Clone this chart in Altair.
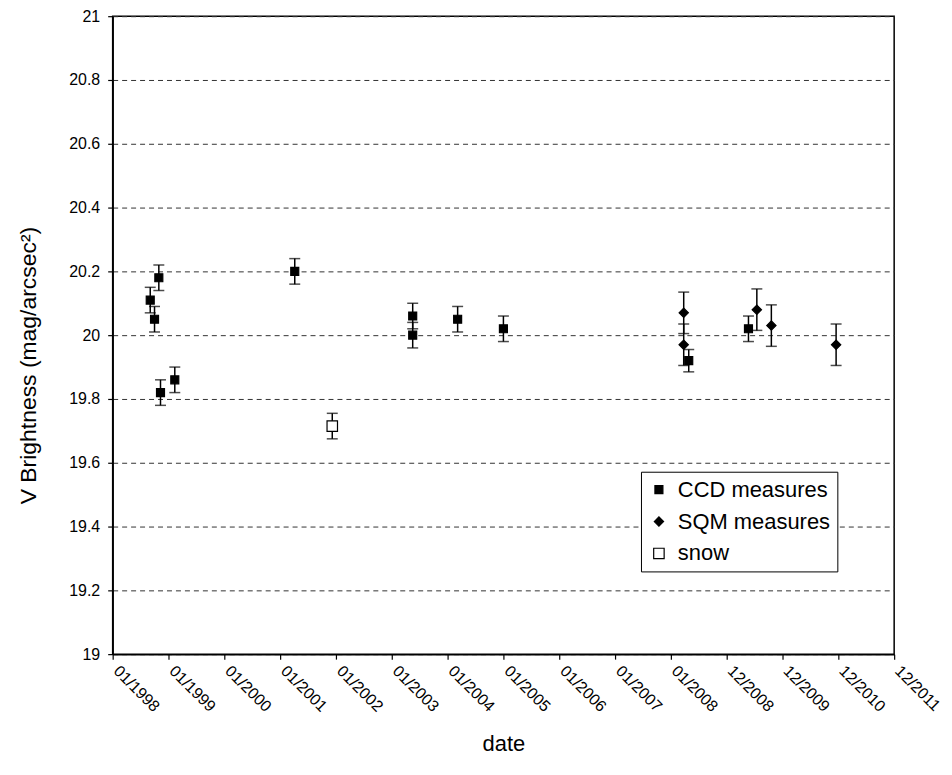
import json
import altair as alt
import pandas as pd

# x positions are expressed as years on the chart's evenly spaced date axis
tick_values = [1998 + i for i in range(15)]
tick_labels = ["01/1998", "01/1999", "01/2000", "01/2001", "01/2002", "01/2003",
               "01/2004", "01/2005", "01/2006", "01/2007", "01/2008", "12/2008",
               "12/2009", "12/2010", "12/2011"]
y_ticks = [19, 19.2, 19.4, 19.6, 19.8, 20, 20.2, 20.4, 20.6, 20.8, 21]

ccd_x = [1998.673, 1998.75, 1998.827, 1998.857, 1999.113, 2001.262, 2003.375,
         2003.375, 2004.18, 2005.0, 2008.32, 2009.39]
ccd_y = [20.11, 20.05, 20.18, 19.82, 19.86, 20.20, 20.06, 20.00, 20.05, 20.02,
         19.92, 20.02]
ccd_err = [0.04, 0.04, 0.04, 0.04, 0.04, 0.04, 0.04, 0.04, 0.04, 0.04, 0.035, 0.04]

sqm_x = [2008.23, 2008.23, 2009.54, 2009.80, 2010.96]
sqm_y = [20.07, 19.97, 20.08, 20.03, 19.97]
sqm_err = [0.065, 0.065, 0.065, 0.065, 0.065]

snow_x = [2001.934]
snow_y = [19.715]
snow_err = [0.04]

series_names = ["CCD measures", "SQM measures", "snow"]

rows = []
for name, xs, ys, es in [(series_names[0], ccd_x, ccd_y, ccd_err),
                         (series_names[1], sqm_x, sqm_y, sqm_err),
                         (series_names[2], snow_x, snow_y, snow_err)]:
    for xv, yv, ev in zip(xs, ys, es):
        rows.append({"date": xv, "v": yv, "lo": yv - ev, "hi": yv + ev, "series": name})
df = pd.DataFrame(rows)

label_expr = json.dumps(tick_labels) + "[round(datum.value - 1998)]"

FONT = "Liberation Sans"

x_enc = alt.X(
    "date:Q",
    title="date",
    scale=alt.Scale(domain=[1998, 2012], nice=False, zero=False),
    axis=alt.Axis(values=tick_values, labelExpr=label_expr, labelAngle=45,
                  labelAlign="left", labelBaseline="middle", labelPadding=9,
                  labelOffset=3, tickSize=5, labelOverlap=False, labelFlush=False,
                  grid=False, titleX=392, titleY=90, titleBaseline="middle",
                  titleFontSize=22),
)
y_scale = alt.Scale(domain=[19, 21], nice=False, zero=False)
y_axis = alt.Axis(values=y_ticks, labelExpr="format(datum.value, '~g')",
                  tickSize=5, labelPadding=8, grid=True, gridDash=[5, 4],
                  gridColor="#333333", gridWidth=1,
                  titleX=-84, titleY=350, titleAngle=270, titleAlign="center",
                  titleBaseline="middle", titleFontSize=23)
y_title = "V Brightness (mag/arcsec²)"

base = alt.Chart(df)

bars = base.mark_rule(color="black", strokeWidth=1.5).encode(
    x=x_enc,
    y=alt.Y("lo:Q", title=y_title, scale=y_scale, axis=y_axis),
    y2="hi:Q",
)
cap_hi = base.mark_tick(orient="horizontal", size=11, thickness=1.5, color="black").encode(
    x=x_enc, y=alt.Y("hi:Q", title=y_title, scale=y_scale, axis=y_axis)
)
cap_lo = base.mark_tick(orient="horizontal", size=11, thickness=1.5, color="black").encode(
    x=x_enc, y=alt.Y("lo:Q", title=y_title, scale=y_scale, axis=y_axis)
)
legend = alt.Legend(title=None)
points = base.mark_point(opacity=1, strokeWidth=1.2).encode(
    x=x_enc,
    y=alt.Y("v:Q", title=y_title, scale=y_scale, axis=y_axis),
    shape=alt.Shape("series:N", scale=alt.Scale(domain=series_names,
                                                range=["square", "diamond", "square"]),
                    legend=legend),
    fill=alt.Fill("series:N", scale=alt.Scale(domain=series_names,
                                              range=["black", "black", "white"]),
                  legend=legend),
    stroke=alt.Stroke("series:N", scale=alt.Scale(domain=series_names,
                                                  range=["black", "black", "black"]),
                      legend=legend),
    size=alt.Size("series:N", scale=alt.Scale(domain=series_names,
                                              range=[64, 110, 56]),
                  legend=legend),
)

chart = alt.layer(bars, cap_hi, cap_lo, points).properties(
    width=784, height=640,
    autosize=alt.AutoSizeParams(type="none"),
    padding={"left": 105, "top": 7, "right": 50, "bottom": 112},
).configure_view(
    stroke="black", strokeWidth=1.5
).configure_axis(
    domainColor="black", domainWidth=1.5, tickColor="black", tickWidth=1.2,
    labelFont=FONT, labelFontSize=16, labelColor="black",
    titleFont=FONT, titleFontWeight="normal", titleColor="black",
).configure_legend(
    orient="none", legendX=530, legendY=457,
    strokeColor="black", fillColor="white", padding=7,
    labelFont=FONT, labelFontSize=22, labelColor="black",
    symbolStrokeWidth=1.2, rowPadding=10, labelOffset=8,
)

chart.save("out.html", embed_options={"renderer": "svg", "actions": False})
